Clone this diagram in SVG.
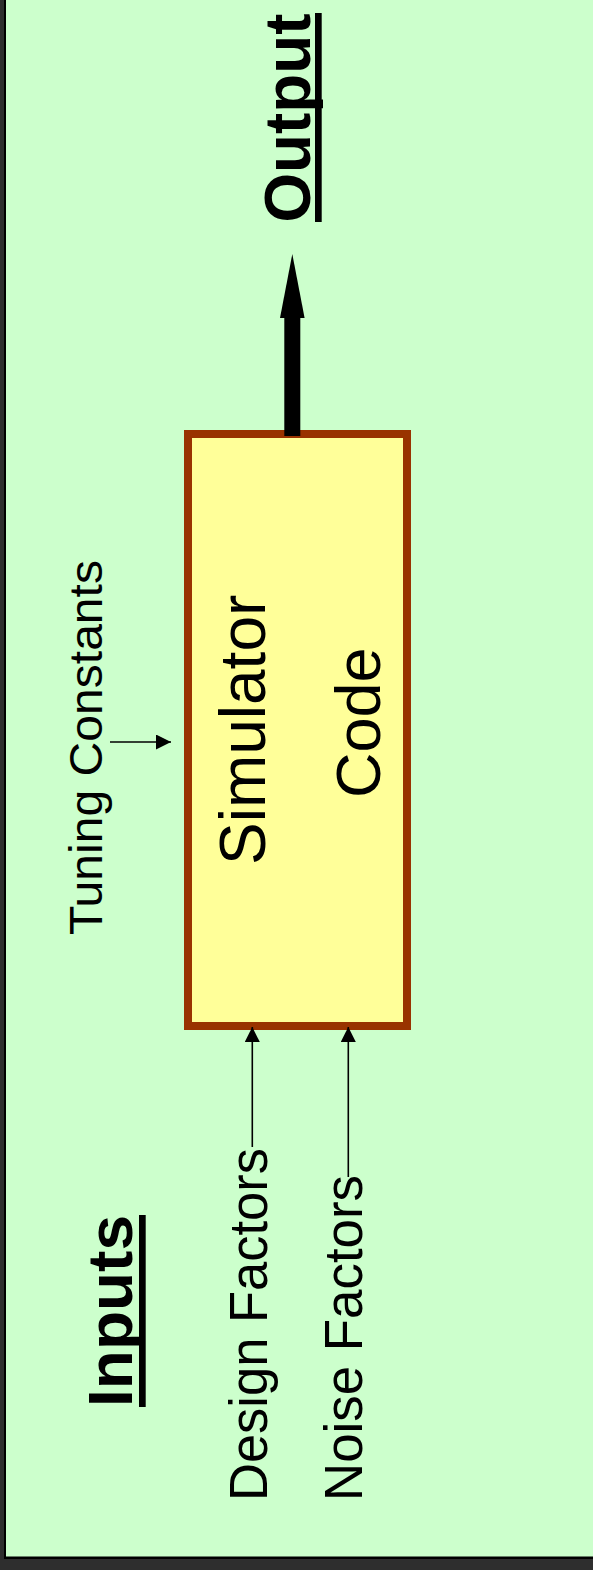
<svg xmlns="http://www.w3.org/2000/svg" width="593" height="1570" viewBox="0 0 593 1570">
  <style>
    .lbl { font-family: "Liberation Sans", Arial, sans-serif; fill: #000; }
    .head { font-weight: bold; }
    .thin { stroke: #000; stroke-width: 1.6; fill: none; }
  </style>
  <defs>
    <marker id="tip" markerUnits="userSpaceOnUse" markerWidth="16" markerHeight="16" refX="15" refY="7.5" orient="auto">
      <path d="M0,0 L15,7.5 L0,15 z" fill="#000"/>
    </marker>
  </defs>

  <!-- page background and frame -->
  <rect x="0" y="0" width="593" height="1570" fill="#ccffcc"/>
  <rect x="0" y="0" width="4" height="1570" fill="#2e2e2e"/>
  <rect x="4" y="0" width="2" height="1558" fill="#000"/>
  <rect x="0" y="1559" width="593" height="11" fill="#2e2e2e"/>
  <rect x="4" y="1556.5" width="589" height="2.5" fill="#000"/>

  <!-- section headings -->
  <g id="output-heading">
    <text class="lbl head" font-size="64" transform="translate(310,222.5) rotate(-90)" textLength="209" lengthAdjust="spacingAndGlyphs">Output</text>
    <rect x="315" y="13" width="6.7" height="209" fill="#000"/>
  </g>
  <g id="inputs-heading">
    <text class="lbl head" font-size="63" transform="translate(131.7,1407) rotate(-90)" textLength="192" lengthAdjust="spacingAndGlyphs">Inputs</text>
    <rect x="139" y="1215" width="6.7" height="192" fill="#000"/>
  </g>

  <!-- simulator block -->
  <g id="simulator">
    <rect x="188" y="434" width="219" height="592" fill="#ffff99" stroke="#993300" stroke-width="8"/>
    <text class="lbl" font-size="64" transform="translate(265,865) rotate(-90)">Simulator</text>
    <text class="lbl" font-size="63" transform="translate(380,798) rotate(-90)">Code</text>
  </g>

  <!-- input labels -->
  <g id="tuning-constants">
    <text class="lbl" font-size="47" transform="translate(101.7,935) rotate(-90)" textLength="375" lengthAdjust="spacingAndGlyphs">Tuning Constants</text>
  </g>
  <g id="design-factors">
    <text class="lbl" font-size="54" transform="translate(266.5,1501) rotate(-90)" textLength="353" lengthAdjust="spacingAndGlyphs">Design Factors</text>
  </g>
  <g id="noise-factors">
    <text class="lbl" font-size="54" transform="translate(362,1501) rotate(-90)" textLength="326" lengthAdjust="spacingAndGlyphs">Noise Factors</text>
  </g>

  <!-- connectors -->
  <g id="connectors">
    <line class="thin" x1="110" y1="742" x2="171" y2="742" marker-end="url(#tip)"/>
    <line class="thin" x1="252.3" y1="1147" x2="252.3" y2="1027" marker-end="url(#tip)"/>
    <line class="thin" x1="348.3" y1="1177" x2="348.3" y2="1027" marker-end="url(#tip)"/>
    <rect x="284.3" y="314" width="16" height="122" fill="#000"/>
    <polygon points="292.3,254 280,318 304.6,318" fill="#000"/>
  </g>
</svg>
